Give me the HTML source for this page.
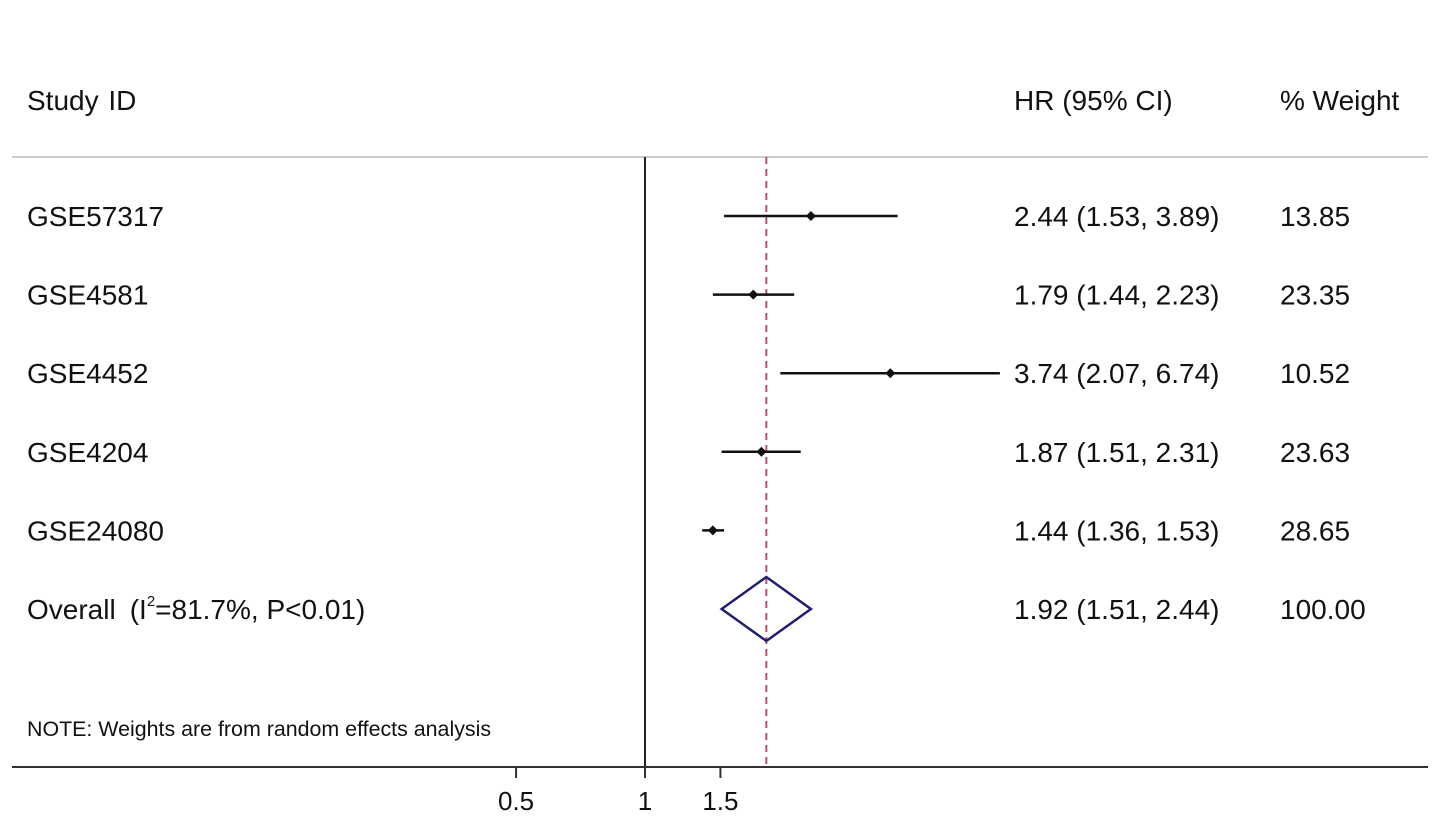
<!DOCTYPE html>
<html><head><meta charset="utf-8"><style>
html,body{margin:0;padding:0;background:#fff;}
svg{display:block;font-family:"Liberation Sans",Arial,sans-serif;}
</style></head><body>
<svg id="chart" width="1441" height="821" viewBox="0 0 1441 821">
<text x="27" y="110" font-size="28" fill="#111">Study <tspan dx="2">ID</tspan></text>
<text x="1014" y="110" font-size="28" fill="#111">HR (95% CI)</text>
<text x="1280" y="110" font-size="28" fill="#111">% Weight</text>
<line x1="12" y1="157" x2="1428" y2="157" stroke="#ccc" stroke-width="2"/>
<line x1="645" y1="157" x2="645" y2="767" stroke="#222" stroke-width="2"/>
<line x1="12" y1="767" x2="1428" y2="767" stroke="#333" stroke-width="2"/>
<g id="marks"></g>
<text x="27" y="736" font-size="21.4" fill="#111">NOTE: Weights are from random effects analysis</text>
</svg>
<script>
const studies=["GSE57317","GSE4581","GSE4452","GSE4204","GSE24080"];
const hr=[2.44,1.79,3.74,1.87,1.44];
const lo=[1.53,1.44,2.07,1.51,1.36];
const hi=[3.89,2.23,6.74,2.31,1.53];
const weights=["13.85","23.35","10.52","23.63","28.65"];
const overall=[1.92,1.51,2.44];
const overallWeight="100.00";
const ticks=[0.5,1,1.5];
const tickLabels=["0.5","1","1.5"];
const NS="http://www.w3.org/2000/svg";
const g=document.getElementById('marks');
const sx=v=>645+186*Math.log(v);
const rowY=i=>216+i*78.6;
function mk(t,a,p){const e=document.createElementNS(NS,t);for(const k in a)e.setAttribute(k,a[k]);(p||g).appendChild(e);return e;}
function txt(x,y,s,size){const e=mk('text',{x:x,y:y,'font-size':size||28,fill:'#111'});e.textContent=s;return e;}
const dl=mk('line',{x1:sx(overall[0]),y1:157,x2:sx(overall[0]),y2:767,stroke:'#c0506a','stroke-width':2,'stroke-dasharray':'7,5'});


const fmt=v=>v.toFixed(2);
studies.forEach((s,i)=>{
 const y=rowY(i);
 const l=txt(27,y+10,s);
 
 
 const ci=mk('line',{x1:sx(lo[i]),y1:y,x2:sx(hi[i]),y2:y,stroke:'#111','stroke-width':2.5});
 
 
 const x=sx(hr[i]);
 const pt=mk('polygon',{points:`${x},${y-5} ${x+5},${y} ${x},${y+5} ${x-5},${y}`,fill:'#111'});
 
 
 const h=txt(1014,y+10,`${fmt(hr[i])} (${fmt(lo[i])}, ${fmt(hi[i])})`);
 
 
 const w=txt(1280,y+10,weights[i]);
 
 
});
const oy=rowY(5);
const ol=txt(27,oy+10,'');
ol.innerHTML='Overall<tspan dx="14">(I</tspan><tspan font-size="15" dy="-13">2</tspan><tspan dy="13">=81.7%, P&lt;0.01)</tspan>';


const dm=mk('polygon',{points:`${sx(overall[1])},${oy} ${sx(overall[0])},${oy-32} ${sx(overall[2])},${oy} ${sx(overall[0])},${oy+32}`,fill:'none',stroke:'#1f1f6e','stroke-width':2.5});


const oh=txt(1014,oy+10,`${fmt(overall[0])} (${fmt(overall[1])}, ${fmt(overall[2])})`);


const ow=txt(1280,oy+10,overallWeight);


ticks.forEach((t,i)=>{
 const tk=mk('line',{x1:sx(t),y1:767,x2:sx(t),y2:778,stroke:'#333','stroke-width':2});
 
 
 const tl=txt(sx(t),810,tickLabels[i],26);
 tl.setAttribute('text-anchor','middle');
 
 
});
</script>
</body></html>
